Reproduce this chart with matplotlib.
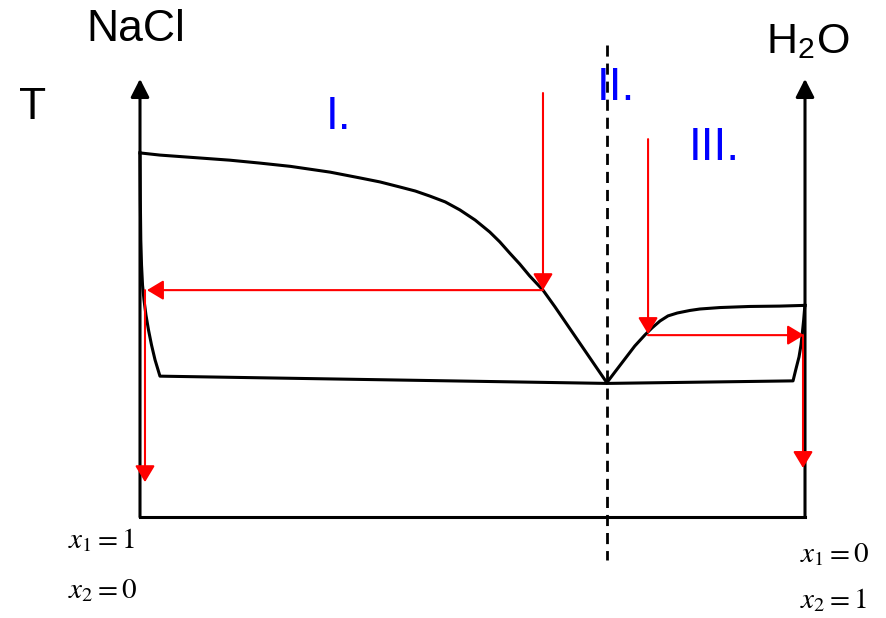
import matplotlib
matplotlib.use("Agg")
import matplotlib.pyplot as plt

plt.rcParams['font.family'] = ['Liberation Sans', 'DejaVu Sans']
plt.rcParams['mathtext.fontset'] = 'stix'

# composition x2 (mole fraction of H2O) and temperature T (arbitrary units)
liq_nacl_x = [0.000, 0.030, 0.060, 0.090, 0.135, 0.180, 0.226, 0.286, 0.331, 0.361,
              0.391, 0.414, 0.436, 0.459, 0.481, 0.504, 0.526, 0.541, 0.556, 0.571,
              0.586, 0.606, 0.624, 0.702]
liq_nacl_T = [100.3, 99.7, 99.3, 98.9, 98.3, 97.5, 96.6, 95.0, 93.4, 92.3,
              90.9, 89.8, 88.4, 86.8, 84.6, 81.8, 78.5, 75.8, 72.7, 69.7,
              66.4, 62.5, 57.9, 37.0]

liq_h2o_x = [0.702, 0.714, 0.729, 0.744, 0.759, 0.770, 0.782, 0.794, 0.808, 0.827,
             0.842, 0.872, 0.917, 0.962, 1.0]
liq_h2o_T = [37.0, 39.9, 43.5, 47.1, 50.1, 52.1, 54.0, 55.4, 56.2, 56.9,
             57.3, 57.7, 58.0, 58.1, 58.3]

sol_x = [0.0, 0.0005, 0.0012, 0.0023, 0.0038, 0.0060, 0.0090, 0.0128, 0.0173, 0.0226,
         0.030, 0.702, 0.982, 0.986, 0.991, 0.994, 0.996, 0.998, 0.9995, 1.0]
sol_T = [100.3, 87.3, 76.3, 69.4, 63.9, 59.8, 55.6, 51.5, 47.4, 43.3,
         38.8, 36.8, 37.5, 40.5, 44.1, 47.4, 50.7, 54.3, 57.6, 58.3]

eutectic_x = 0.702

# red arrows: (x start, T start, x end, T end)
arrows = [
    (0.606, 116.8, 0.606, 62.5),
    (0.606, 62.5, 0.0105, 62.5),
    (0.0075, 62.5, 0.0075, 9.6),
    (0.764, 104.1, 0.764, 50.4),
    (0.764, 50.1, 0.9985, 50.1),
    (0.997, 50.1, 0.997, 13.5),
]

region_labels = ["I.", "II.", "III."]
region_x = [0.298, 0.716, 0.863]
region_T = [110.2, 118.2, 101.7]

T_top = 120.7

fig = plt.figure(figsize=(8.86, 6.18), dpi=100)
ax = fig.add_axes([0, 0, 1, 1])
ax.set_xlim(-140 / 665, 746 / 665)
ax.set_ylim(-101 / 3.63, 517 / 3.63)
ax.axis('off')

# axes of the diagram
ax.plot([0, 1], [0, 0], color='black', lw=2.2, solid_capstyle='projecting')
for xa in [0, 1]:
    ax.annotate('', xy=(xa, T_top), xytext=(xa, 0),
                arrowprops=dict(arrowstyle='-|>,head_length=0.55,head_width=0.28',
                                mutation_scale=20, color='black', lw=2.2,
                                shrinkA=0, shrinkB=0))

# phase boundaries
ax.plot(liq_nacl_x, liq_nacl_T, color='black', lw=2.2, solid_joinstyle='round')
ax.plot(liq_h2o_x, liq_h2o_T, color='black', lw=2.2, solid_joinstyle='round')
ax.plot(sol_x, sol_T, color='black', lw=2.2, solid_joinstyle='round')

ax.plot([eutectic_x, eutectic_x], [130, -11.8], color='black', lw=2,
        dashes=(4, 2.5))

for x0, y0, x1, y1 in arrows:
    ax.annotate('', xy=(x1, y1), xytext=(x0, y0),
                arrowprops=dict(arrowstyle='-|>,head_length=0.5,head_width=0.3',
                                mutation_scale=20, color='red', lw=1.5,
                                shrinkA=0, shrinkB=0))

for lab, xx, tt in zip(region_labels, region_x, region_T):
    ax.text(xx, tt, lab, color='blue', fontsize=33, ha='center', va='center')

ax.text(-0.006, 134.4, 'NaCl', fontsize=32, ha='center', va='center')
ax.text(-0.162, 112.9, 'T', fontsize=32, ha='center', va='center')
ax.text(1.005, 130.9, 'H$_\\mathregular{2}$O', fontsize=31, ha='center', va='center')

ax.text(-0.108, -8.5, '$x_1 = 1$', fontsize=21, ha='left', va='baseline')
ax.text(-0.108, -22.3, '$x_2 = 0$', fontsize=21, ha='left', va='baseline')
ax.text(0.992, -12.4, '$x_1 = 0$', fontsize=21, ha='left', va='baseline')
ax.text(0.992, -25.1, '$x_2 = 1$', fontsize=21, ha='left', va='baseline')

fig.savefig('out.png', dpi=100)
